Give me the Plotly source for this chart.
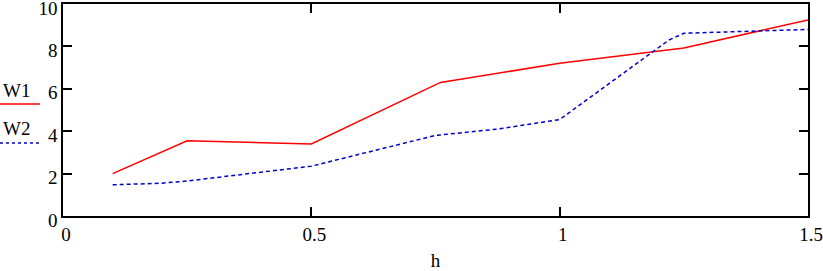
import plotly.graph_objects as go

# Data
h_w1 = [0.1, 0.25, 0.5, 0.76, 1.0, 1.25, 1.5]
w1 = [2.0, 3.55, 3.4, 6.3, 7.2, 7.92, 9.25]

h_w2 = [0.1, 0.2, 0.25, 0.5, 0.75, 0.875, 1.0, 1.22, 1.25, 1.5]
w2 = [1.47, 1.55, 1.65, 2.35, 3.8, 4.1, 4.55, 8.3, 8.62, 8.8]

x_ticks = [0, 0.5, 1, 1.5]
x_tick_labels = ["0", "0.5", "1", "1.5"]
y_ticks = [0, 2, 4, 6, 8, 10]
y_tick_labels = ["0", "2", "4", "6", "8", "10"]

series_names = ["W1", "W2"]

FONT = "Liberation Serif"
FS = 19
RED = "#ff0000"
BLUE = "#0000c8"

fig = go.Figure()
fig.add_trace(go.Scatter(x=h_w1, y=w1, mode="lines", name=series_names[0],
                         line=dict(color=RED, width=1.5), showlegend=False))
fig.add_trace(go.Scatter(x=h_w2, y=w2, mode="lines", name=series_names[1],
                         line=dict(color=BLUE, width=1.5, dash="4px,3px"),
                         showlegend=False))

axis_common = dict(showgrid=False, zeroline=False, showline=True,
                   linecolor="black", linewidth=1.5, mirror="ticks",
                   ticks="inside", ticklen=9, tickwidth=1.5, tickcolor="black",
                   ticklabeloverflow="allow", automargin=False,
                   tickfont=dict(family=FONT, size=FS, color="black"))

fig.update_xaxes(range=[0, 1.5], tickvals=x_ticks, ticktext=x_tick_labels,
                 ticklabelshift=3, ticklabelstandoff=0,
                 title=dict(text="h", font=dict(family=FONT, size=FS, color="black"),
                            standoff=13),
                 **axis_common)
fig.update_yaxes(range=[0, 10], tickvals=y_ticks, ticktext=y_tick_labels,
                 ticklabelstandoff=0, ticklabelshift=4, **axis_common)

# Mathcad-style legend on the left: name above a line sample
fig.add_annotation(text=series_names[0], xref="paper", yref="paper",
                   x=-0.063, y=0.594, showarrow=False, xanchor="center", yanchor="middle",
                   font=dict(family=FONT, size=FS, color="black"))
fig.add_shape(type="line", xref="paper", yref="paper",
              x0=-0.0846, x1=-0.031, y0=0.528, y1=0.528,
              line=dict(color=RED, width=1.5))
fig.add_annotation(text=series_names[1], xref="paper", yref="paper",
                   x=-0.062, y=0.415, showarrow=False, xanchor="center", yanchor="middle",
                   font=dict(family=FONT, size=FS, color="black"))
fig.add_shape(type="line", xref="paper", yref="paper",
              x0=-0.0846, x1=-0.031, y0=0.344, y1=0.344,
              line=dict(color=BLUE, width=1.5, dash="3px,3px"))

fig.update_layout(width=823, height=271,
                  margin=dict(l=63, r=15, t=4, b=55),
                  paper_bgcolor="white", plot_bgcolor="white",
                  font=dict(family=FONT, size=FS, color="black"))

fig.write_html("out.html", config={"displayModeBar": False},
               post_script="document.body.style.margin='0';document.body.style.padding='0';")
